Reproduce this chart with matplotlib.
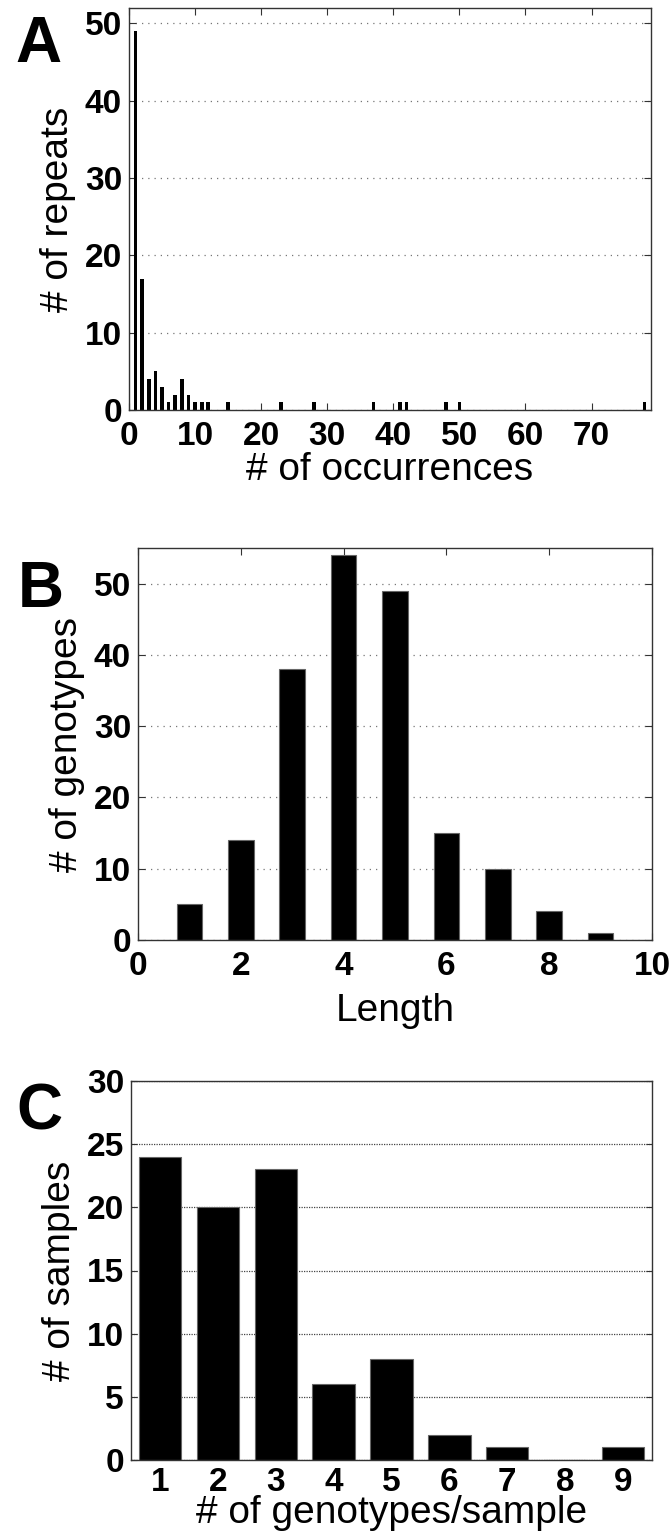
import numpy as np
import matplotlib.pyplot as plt

plt.rcParams['font.family'] = ['Liberation Sans', 'DejaVu Sans']

# --- Panel A: number of repeats by number of occurrences
occ_x = [1, 2, 3, 4, 5, 6, 7, 8, 9, 10, 11, 12, 15, 23, 28, 37, 41, 42, 48, 50, 78]
occ_n = [49, 17, 4, 5, 3, 1, 2, 4, 2, 1, 1, 1, 1, 1, 1, 1, 1, 1, 1, 1, 1]
occ_ticks = [0, 10, 20, 30, 40, 50, 60, 70]

# --- Panel B: number of genotypes by length
len_x = [1, 2, 3, 4, 5, 6, 7, 8, 9]
len_n = [5, 14, 38, 54, 49, 15, 10, 4, 1]
len_ticks = [0, 2, 4, 6, 8, 10]

# --- Panel C: number of samples by genotypes/sample
gps_x = [1, 2, 3, 4, 5, 6, 7, 8, 9]
gps_n = [24, 20, 23, 6, 8, 2, 1, 0, 1]

W, H = 671, 1531
fig = plt.figure(figsize=(W / 100, H / 100), dpi=100)


def box(l, t, r, b):
    return [l / W, 1 - b / H, (r - l) / W, (b - t) / H]


TICK_FS = 24
LABEL_FS = 28
LETTER_FS = 46
spine_col = '#333333'


def style(ax, grid_ls, grid_col):
    for s in ax.spines.values():
        s.set_color(spine_col)
        s.set_linewidth(1.0)
    ax.yaxis.grid(True, linestyle=grid_ls, color=grid_col, linewidth=0.9)
    ax.set_axisbelow(True)
    for lab in ax.get_xticklabels() + ax.get_yticklabels():
        lab.set_fontweight('bold')
        lab.set_fontsize(TICK_FS)


# ===================== A =====================
axA = fig.add_axes(box(129, 8, 651, 410))
axA.bar(occ_x, occ_n, width=0.55, color='black', edgecolor='none')
axA.set_xlim(0, 79)
axA.set_ylim(0, 52)
axA.set_xticks(occ_ticks)
axA.set_yticks([0, 10, 20, 30, 40, 50])
axA.tick_params(direction='in', length=5, top=True, right=True, color=spine_col, pad=5)
axA.tick_params(axis='x', pad=8)
axA.set_xlabel('# of occurrences', fontsize=LABEL_FS, labelpad=0)
axA.set_ylabel('# of repeats', fontsize=LABEL_FS, labelpad=6)
style(axA, (0, (1, 4)), '#777777')
fig.text(15 / W, 1 - 62 / H, 'A', fontsize=LETTER_FS, fontweight='bold')

# ===================== B =====================
axB = fig.add_axes(box(138, 548, 652, 940))
axB.bar(len_x, len_n, width=0.5, color='black', edgecolor='#666666', linewidth=0.8)
axB.set_xlim(0, 10)
axB.set_ylim(0, 55)
axB.set_xticks(len_ticks)
axB.set_yticks([0, 10, 20, 30, 40, 50])
axB.tick_params(direction='in', length=5, top=True, right=True, color=spine_col, pad=5)
axB.tick_params(axis='x', pad=8)
axB.set_xlabel('Length', fontsize=LABEL_FS, labelpad=8)
axB.set_ylabel('# of genotypes', fontsize=LABEL_FS, labelpad=6)
style(axB, (0, (1, 4)), '#777777')
fig.text(18 / W, 1 - 607 / H, 'B', fontsize=LETTER_FS, fontweight='bold')

# ===================== C =====================
axC = fig.add_axes(box(131, 1081, 652, 1460))
axC.bar(gps_x, gps_n, width=0.73, color='black', edgecolor='#666666', linewidth=0.8)
axC.set_xlim(0.5, 9.5)
axC.set_ylim(0, 30)
axC.set_xticks(gps_x)
axC.set_yticks([0, 5, 10, 15, 20, 25, 30])
axC.tick_params(axis='x', length=0, pad=5)
axC.tick_params(axis='y', direction='in', length=4, right=True, color=spine_col, pad=5)
axC.set_xlabel('# of genotypes/sample', fontsize=LABEL_FS, labelpad=-2)
axC.set_ylabel('# of samples', fontsize=LABEL_FS, labelpad=6)
style(axC, (0, (1, 1)), '#444444')
fig.text(16 / W, 1 - 1130 / H, 'C', fontsize=LETTER_FS, fontweight='bold')

fig.savefig('out.png', dpi=100)
